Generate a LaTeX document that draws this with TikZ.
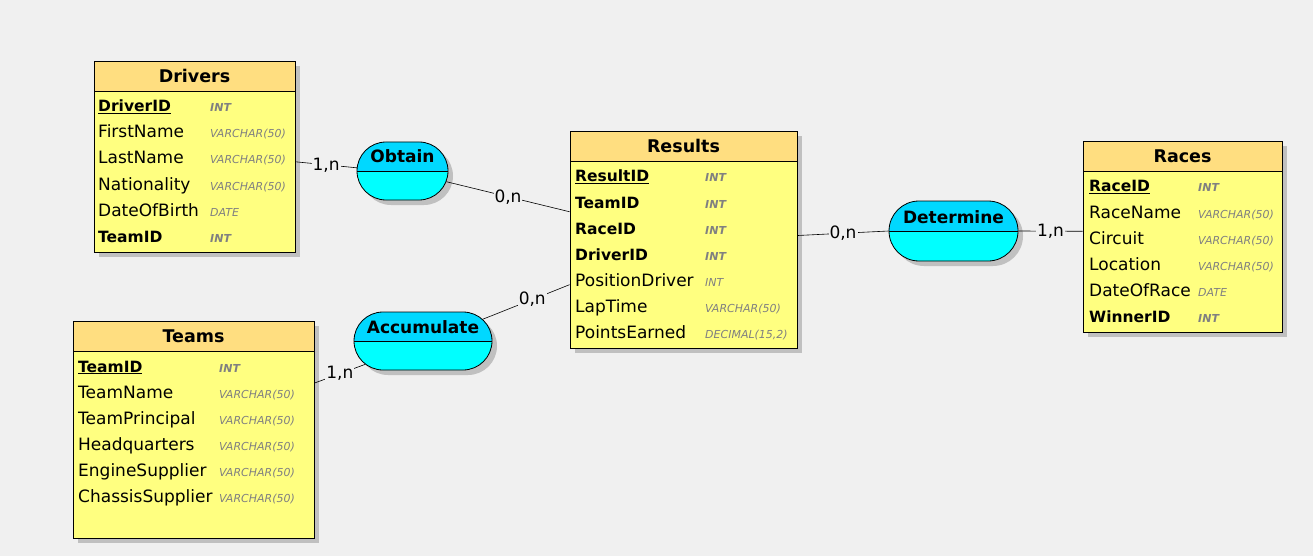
\documentclass[tikz,border=0pt]{standalone}
\usepackage{fontspec}
\setmainfont{DejaVu Sans}
\usetikzlibrary{shapes.misc,shadows}

\definecolor{bgcol}{RGB}{240,240,240}
\definecolor{headcol}{RGB}{255,222,128}
\definecolor{bodycol}{RGB}{255,255,128}
\definecolor{reltop}{RGB}{0,216,255}
\definecolor{relbot}{RGB}{0,255,255}
\definecolor{shadecol}{RGB}{192,192,192}
\definecolor{typecol}{RGB}{128,128,128}

\newcommand{\pkey}[1]{{\fontsize{15.5}{18}\selectfont\bfseries\underline{#1}}}
\newcommand{\fkey}[1]{{\fontsize{15.5}{18}\selectfont\bfseries #1}}
\newcommand{\tint}{{\bfseries INT}}

\tikzset{
  shade/.style={drop shadow={shadow xshift=5pt,shadow yshift=-5pt,fill=shadecol,opacity=1}},
  tbl/.style={draw, line width=.8pt, fill=bodycol, shade, inner sep=0pt},
  thead/.style={draw, line width=.8pt, fill=headcol, minimum height=30pt, inner sep=0pt,
    font=\fontsize{17.5}{20}\selectfont\bfseries},
  field/.style={anchor=base west, inner sep=0pt, font=\fontsize{17}{20}\selectfont},
  ftype/.style={anchor=base west, inner sep=0pt, text=typecol, font=\fontsize{11}{13}\selectfont\itshape},
  rel/.style={rounded rectangle, draw, line width=.8pt, fill=relbot, shade, inner sep=0pt,
    path picture={
      \fill[reltop] (path picture bounding box.north west) rectangle (path picture bounding box.east);
      \draw[line width=.8pt] (path picture bounding box.west) -- (path picture bounding box.east);
    }},
  reltext/.style={anchor=base, inner sep=0pt, font=\fontsize{17}{20}\selectfont\bfseries},
  conn/.style={line width=.6pt},
  card/.style={fill=bgcol, inner sep=1pt, font=\fontsize{17}{20}\selectfont},
}

\begin{document}
\begin{tikzpicture}[x=1pt,y=-1pt]
  \fill[bgcol] (0,0) rectangle (1313,556);
  \useasboundingbox (0,0) rectangle (1313,556);

  % tables
  \node[tbl, minimum width=201pt, minimum height=191pt] (drivers) at (194.5,156.5) {};
  \node[thead, minimum width=201pt] (drivers-h) at (194.5,76) {Drivers};
  \foreach \f/\t [count=\i from 0] in {\pkey{DriverID}/\tint, FirstName/VARCHAR(50),
      LastName/VARCHAR(50), Nationality/VARCHAR(50), DateOfBirth/DATE, \fkey{TeamID}/\tint} {
    \node[field] (drv-f\i) at (98,112+26*\i) {\f};
    \node[ftype] (drv-t\i) at (210,112+26*\i) {\t};
  }

  \node[tbl, minimum width=227pt, minimum height=217pt] (results) at (683.5,239.5) {};
  \node[thead, minimum width=227pt] (results-h) at (683.5,146) {Results};
  \foreach \f/\t [count=\i from 0] in {\pkey{ResultID}/\tint, \fkey{TeamID}/\tint,
      \fkey{RaceID}/\tint, \fkey{DriverID}/\tint, PositionDriver/INT,
      LapTime/VARCHAR(50), PointsEarned/{DECIMAL(15,2)}} {
    \node[field] (res-f\i) at (575,182+26*\i) {\f};
    \node[ftype] (res-t\i) at (705,182+26*\i) {\t};
  }

  \node[tbl, minimum width=199pt, minimum height=191pt] (races) at (1182.5,236.5) {};
  \node[thead, minimum width=199pt] (races-h) at (1182.5,156) {Races};
  \foreach \f/\t [count=\i from 0] in {\pkey{RaceID}/\tint, RaceName/VARCHAR(50),
      Circuit/VARCHAR(50), Location/VARCHAR(50), DateOfRace/DATE, \fkey{WinnerID}/\tint} {
    \node[field] (rac-f\i) at (1089,192+26*\i) {\f};
    \node[ftype] (rac-t\i) at (1198,192+26*\i) {\t};
  }

  \node[tbl, minimum width=241pt, minimum height=217pt] (teams) at (193.5,429.5) {};
  \node[thead, minimum width=241pt] (teams-h) at (193.5,336) {Teams};
  \foreach \f/\t [count=\i from 0] in {\pkey{TeamID}/\tint, TeamName/VARCHAR(50),
      TeamPrincipal/VARCHAR(50), Headquarters/VARCHAR(50), EngineSupplier/VARCHAR(50),
      ChassisSupplier/VARCHAR(50)} {
    \node[field] (tea-f\i) at (78,372+26*\i) {\f};
    \node[ftype] (tea-t\i) at (219,372+26*\i) {\t};
  }

  % associations
  \node[rel, minimum width=91pt, minimum height=58pt] (obtain) at (402.5,171) {};
  \node[reltext] (obtain-t) at ([yshift=8pt]obtain.center) {Obtain};
  \node[rel, minimum width=138pt, minimum height=58pt] (accumulate) at (423,341) {};
  \node[reltext] (accumulate-t) at ([yshift=8pt]accumulate.center) {Accumulate};
  \node[rel, minimum width=129pt, minimum height=60pt] (determine) at (953.5,231) {};
  \node[reltext] (determine-t) at ([yshift=8pt]determine.center) {Determine};

  % links
  \draw[conn] (drivers.-3) -- node[card] (c1) {1,n} (obtain.176);
  \draw[conn] (obtain) -- node[card] (c2) {0,n} (results);
  \draw[conn] (accumulate.20) -- node[card, pos=.57] (c3) {0,n} (results);
  \draw[conn] (teams.21) -- node[card] (c4) {1,n} (accumulate.202);
  \draw[conn] (results.2) -- node[card] (c5) {0,n} (determine.west);
  \draw[conn] (determine.east) -- node[card] (c6) {1,n} (races.177);
\end{tikzpicture}
\end{document}
